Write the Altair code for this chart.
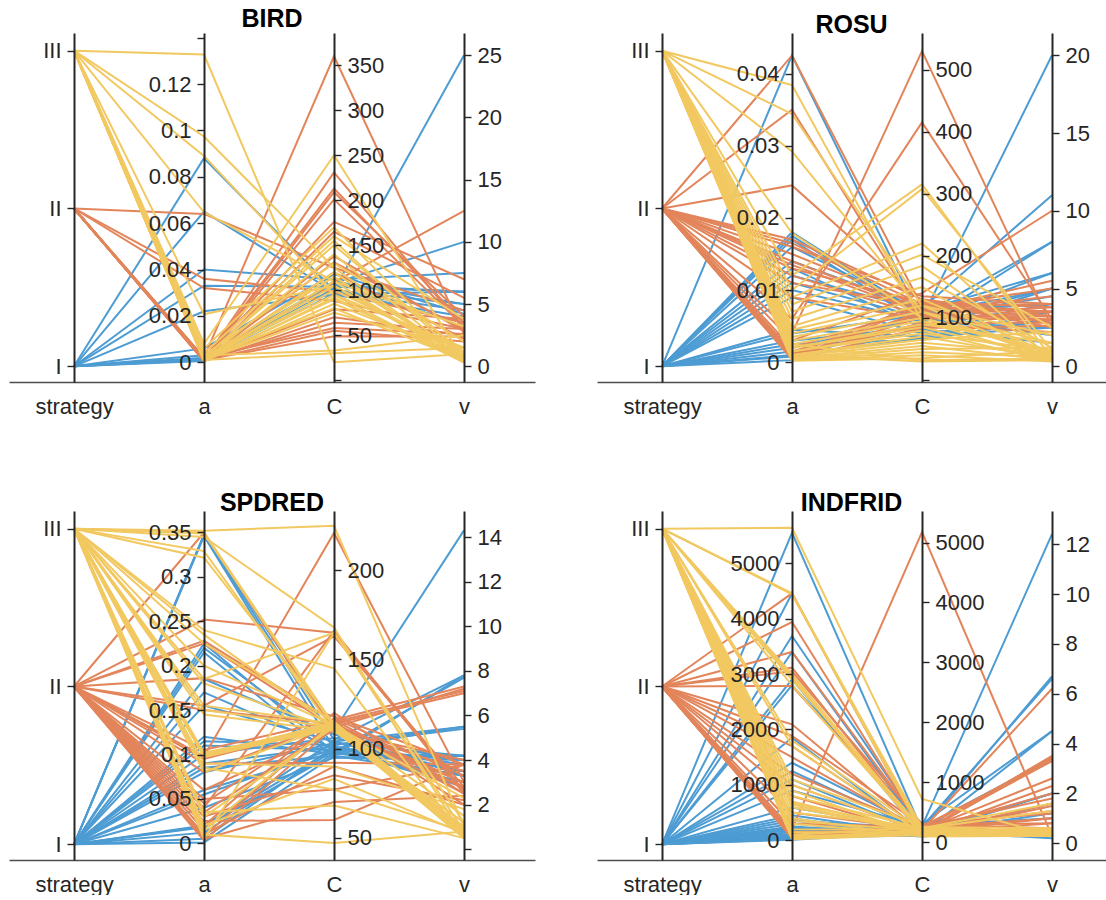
import altair as alt
import pandas as pd

# ---------------------------------------------------------------- data
LEVELS = ["I", "II", "III"]
COLORS = ["#4D9CD3", "#E3855B", "#F2C861"]
DIMS = ["strategy", "a", "C", "v"]

# BIRD
BIRD_STRATEGY = ["I"] * 12 + ["II"] * 20 + ["III"] * 25
BIRD_A = [0.088, 0.065, 0.040, 0.033, 0.022, 0.006, 0.003, 0.002, 0.0015, 0.001, 0.001, 0.0005,
          0.064, 0.036, 0.032, 0.002, 0.001, 0.0015, 0.001, 0.0005, 0.002, 0.001,
          0.0008, 0.0012, 0.001, 0.0015, 0.001, 0.0005, 0.001, 0.002, 0.0008, 0.001,
          0.1327, 0.0974, 0.089, 0.0647, 0.0207, 0.008, 0.006, 0.004, 0.002, 0.002,
          0.001, 0.003, 0.001, 0.002, 0.001, 0.0015, 0.001, 0.002, 0.001, 0.0005,
          0.002, 0.001, 0.003, 0.001, 0.0005]
BIRD_C = [100, 98, 112, 104, 95, 118, 108, 100, 96, 106, 110, 102,
          125, 98, 88, 360, 231, 213, 209, 201, 176, 165,
          138, 131, 120, 109, 79, 70, 64, 58, 55, 49,
          20, 125, 95, 110, 105, 250, 170, 160, 155, 150,
          140, 130, 120, 115, 110, 105, 100, 95, 90, 85,
          80, 75, 33, 30, 92]
BIRD_V = [5, 4.5, 7.5, 6, 4, 4.2, 10, 25, 6, 6, 5, 3.5,
          4.5, 3.5, 3.0, 2.6, 3.0, 3.5, 4.0, 3.2, 7.0, 5.5,
          2.8, 3.0, 2.2, 12.5, 3.8, 2.5, 3.0, 2.6, 2.0, 2.4,
          1.0, 0.5, 1.5, 0.4, 0.8, 0.5, 0.6, 3.8, 0.5, 1.0,
          0.4, 2.0, 0.5, 0.7, 3.2, 0.5, 1.2, 0.4, 0.6, 0.9,
          0.5, 1.5, 2.5, 1.5, 0.3]

# ROSU
ROSU_STRATEGY = ["I"] * 20 + ["II"] * 25 + ["III"] * 30
ROSU_A = [0.0425, 0.018, 0.0175, 0.017, 0.016, 0.014, 0.013, 0.012, 0.011, 0.010,
          0.009, 0.0045, 0.004, 0.003, 0.0025, 0.002, 0.0015, 0.001, 0.0008, 0.0003,
          0.0425, 0.035, 0.0245, 0.017, 0.0165, 0.016, 0.015, 0.014, 0.0135, 0.013,
          0.012, 0.011, 0.009, 0.006, 0.004, 0.003, 0.002, 0.0015, 0.001, 0.001,
          0.0008, 0.0005, 0.0012, 0.0006, 0.0004,
          0.0384, 0.0344, 0.0292, 0.0179, 0.012, 0.010, 0.009, 0.008, 0.007, 0.006,
          0.005, 0.0045, 0.004, 0.0035, 0.003, 0.0025, 0.002, 0.002, 0.0015, 0.0015,
          0.001, 0.001, 0.0008, 0.0006, 0.0005, 0.0004, 0.0003, 0.0002, 0.0025, 0.001]
ROSU_C = [95, 105, 100, 90, 110, 115, 85, 112, 100, 95,
          75, 70, 105, 85, 65, 100, 80, 68, 92, 82,
          118, 100, 126, 130, 122, 135, 118, 112, 108, 125,
          104, 120, 98, 415, 530, 140, 116, 106, 124, 92,
          110, 102, 88, 120, 84,
          95, 120, 110, 100, 315, 308, 220, 202, 184, 165,
          150, 130, 120, 110, 100, 95, 90, 85, 80, 75,
          70, 65, 60, 55, 50, 45, 40, 35, 32, 30]
ROSU_V = [6, 5, 4.5, 8, 4, 11, 3.5, 6, 20, 5,
          3, 2.5, 8, 4, 3, 2, 5, 3.5, 2.5, 1.5,
          3.5, 3, 3.8, 3.2, 2.8, 4, 3.5, 5.5, 3, 2.5,
          3.2, 4, 3.5, 3.0, 2.5, 10, 5, 3.8, 3.5, 2.8,
          4.5, 3, 2.2, 3.2, 2.6,
          1.0, 0.5, 1.5, 0.8, 0.5, 1.0, 0.4, 2.5, 0.6, 1.2,
          0.3, 0.8, 2.0, 0.5, 1.0, 0.4, 1.5, 0.6, 0.3, 1.0,
          0.5, 2.2, 0.8, 0.4, 1.2, 0.6, 0.3, 1.0, 0.5, 0.4]

# SPDRED
SPDRED_STRATEGY = ["I"] * 25 + ["II"] * 25 + ["III"] * 30
SPDRED_A = [0.348, 0.347, 0.346, 0.225, 0.22, 0.215, 0.185, 0.17, 0.155, 0.12,
            0.115, 0.11, 0.10, 0.09, 0.085, 0.08, 0.06, 0.055, 0.04, 0.02,
            0.019, 0.018, 0.012, 0.005, 0.001,
            0.35, 0.252, 0.228, 0.225, 0.186, 0.155, 0.15, 0.105, 0.098, 0.095,
            0.09, 0.08, 0.06, 0.05, 0.045, 0.04, 0.035, 0.03, 0.025, 0.02,
            0.015, 0.01, 0.008, 0.005, 0.003,
            0.352, 0.35, 0.349, 0.345, 0.329, 0.3216, 0.24, 0.235, 0.225, 0.2,
            0.185, 0.18, 0.155, 0.15, 0.145, 0.102, 0.1, 0.1, 0.099, 0.098,
            0.097, 0.09, 0.085, 0.08, 0.035, 0.03, 0.02, 0.015, 0.01, 0.005]
SPDRED_C = [110, 105, 100, 98, 102, 95, 108, 100, 104, 97,
            102, 99, 106, 101, 96, 103, 98, 100, 95, 104,
            100, 97, 99, 101, 96,
            110, 165, 115, 112, 118, 163, 114, 116, 221, 113,
            92, 115, 110, 77, 117, 166, 112, 85, 60, 120,
            114, 90, 116, 70, 112,
            225, 113, 112, 168, 110, 114, 145, 112, 115, 113,
            165, 111, 114, 112, 110, 113, 112, 114, 111, 115,
            112, 90, 77, 113, 68, 112, 83, 114, 47, 165]
SPDRED_V = [14.3, 7.8, 5.5, 7.7, 5.4, 4.2, 3.3, 4.0, 3.5, 4.2,
            5.5, 3.0, 4.0, 3.5, 7.8, 4.2, 3.3, 2.8, 4.0, 5.5,
            3.5, 4.2, 3.0, 3.8, 3.3,
            3.0, 2.5, 7.1, 7.2, 3.8, 2.8, 7.0, 7.3, 3.0, 2.5,
            3.8, 2.0, 4.0, 3.8, 3.3, 2.6, 2.8, 2.2, 3.8, 2.5,
            3.0, 2.0, 2.7, 2.4, 3.5,
            1.0, 0.8, 0.6, 0.5, 1.2, 0.7, 0.5, 1.0, 0.6, 0.9,
            0.8, 0.5, 1.5, 0.7, 1.0, 0.6, 0.8, 0.5, 1.2, 0.9,
            0.6, 1.8, 0.8, 2.3, 0.5, 1.0, 0.7, 0.6, 0.8, 1.2]

# INDFRID
INDFRID_STRATEGY = ["I"] * 30 + ["II"] * 25 + ["III"] * 30
INDFRID_A = [5550, 4458, 3688, 3400, 2906, 2800, 1852, 1400, 1250, 1100,
             900, 590, 450, 400, 350, 300, 250, 220, 200, 180,
             150, 120, 100, 80, 60, 50, 40, 30, 20, 10,
             4458, 3940, 3400, 3116, 3050, 2785, 2094, 1883, 1700, 1500,
             1200, 1000, 800, 500, 300, 200, 150, 120, 100, 90,
             80, 70, 60, 50, 40,
             5640, 4458, 4450, 4440, 3000, 2950, 2900, 2800, 1800, 1700,
             1100, 1000, 900, 800, 700, 673, 650, 600, 500, 400,
             350, 300, 200, 150, 100, 80, 60, 40, 30, 20]
INDFRID_C = [200, 150, 250, 180, 120, 300, 100, 220, 180, 150,
             260, 200, 130, 100, 240, 160, 120, 200, 90, 150,
             280, 100, 170, 130, 220, 110, 190, 140, 260, 160,
             150, 200, 250, 180, 300, 220, 160, 280, 140, 200,
             240, 170, 130, 210, 260, 5175, 190, 150, 230, 170,
             300, 140, 200, 250, 180,
             720, 200, 150, 250, 180, 120, 220, 160, 200, 140,
             260, 180, 100, 230, 150, 200, 120, 170, 250, 90,
             190, 130, 210, 160, 240, 110, 180, 150, 200, 120]
INDFRID_V = [0.3, 0.4, 6.6, 0.2, 0.5, 4.5, 0.3, 0.4, 2.0, 0.5,
             12.4, 0.3, 1.6, 0.4, 3.4, 0.5, 0.3, 6.7, 0.6, 0.4,
             1.0, 0.3, 0.5, 2.0, 0.4, 0.3, 0.5, 4.5, 0.3, 1.2,
             3.4, 0.5, 1.8, 3.3, 0.6, 1.3, 3.5, 0.8, 2.3, 6.2,
             1.0, 3.4, 1.5, 0.5, 3.3, 0.3, 2.6, 1.6, 3.4, 0.8,
             1.2, 3.5, 2.0, 0.4, 1.0,
             0.3, 0.5, 0.4, 0.6, 0.3, 0.5, 1.3, 0.4, 0.3, 0.6,
             0.4, 0.5, 0.3, 1.6, 0.4, 0.5, 0.3, 0.6, 0.4, 0.3,
             0.5, 0.4, 0.3, 0.6, 0.4, 0.5, 0.3, 0.4, 0.5, 0.3]

# axis limits (bottom, top) of each coordinate
BIRD_LIMITS = {"strategy": (0.9005, 3.112), "a": (-0.0085, 0.1420),
               "C": (-1.9, 385.9), "v": (-1.26, 26.79)}
ROSU_LIMITS = {"strategy": (0.9005, 3.112), "a": (-0.00273, 0.04561),
               "C": (-3.1, 559.0), "v": (-1.01, 21.43)}
SPDRED_LIMITS = {"strategy": (0.9005, 3.112), "a": (-0.0188, 0.3742),
                 "C": (37.49, 233.3), "v": (-0.48, 15.17)}
INDFRID_LIMITS = {"strategy": (0.9005, 3.112), "a": (-355.6, 5944.0),
                  "C": (-300.5, 5526.0), "v": (-0.67, 13.33)}

BIRD_TICKS = {"strategy": [1, 2, 3], "a": [0, 0.02, 0.04, 0.06, 0.08, 0.1, 0.12, 0.14],
              "C": [0, 50, 100, 150, 200, 250, 300, 350], "v": [0, 5, 10, 15, 20, 25]}
ROSU_TICKS = {"strategy": [1, 2, 3], "a": [0, 0.01, 0.02, 0.03, 0.04],
              "C": [0, 100, 200, 300, 400, 500], "v": [0, 5, 10, 15, 20]}
SPDRED_TICKS = {"strategy": [1, 2, 3], "a": [0, 0.05, 0.1, 0.15, 0.2, 0.25, 0.3, 0.35],
                "C": [50, 100, 150, 200], "v": [0, 2, 4, 6, 8, 10, 12, 14]}
INDFRID_TICKS = {"strategy": [1, 2, 3], "a": [0, 1000, 2000, 3000, 4000, 5000],
                 "C": [0, 1000, 2000, 3000, 4000, 5000], "v": [0, 2, 4, 6, 8, 10, 12]}

# tick marks whose labels fall outside the axis span are left unlabeled
BIRD_UNLABELED = {"a": [0.14], "C": [0]}
ROSU_UNLABELED = {"C": [0]}
SPDRED_UNLABELED = {"v": [0]}
INDFRID_UNLABELED = {}

# ---------------------------------------------------------------- style
FONT = "Liberation Sans"
INK = "#262626"
STEP = 130          # distance between neighbouring coordinate axes
FIRST = 65          # position of the first axis inside the plot
PLOT_H = 349
LABEL_SIZE = 22


def panel(title, strategy, a, c, v, limits, ticks, unlabeled, width):
    df = pd.DataFrame({"id": range(len(a)), "strategy": strategy, "a": a, "C": c, "v": v})
    base = alt.Chart(df).transform_calculate(
        level="indexof(['I', 'II', 'III'], datum.strategy) + 1"
    )
    source = {"strategy": "level", "a": "a", "C": "C", "v": "v"}

    # every coordinate rescaled onto the shared 0..1 vertical span
    norm = {}
    for d in DIMS:
        lo, hi = limits[d]
        norm["n_" + d] = f"(datum['{source[d]}'] - ({lo})) / ({hi - lo})"

    outer = width - 3 * STEP
    x_scale = alt.Scale(type="point", padding=outer / (2 * STEP), align=FIRST / outer)
    x_enc = alt.X(
        "dim:N",
        sort=["n_" + d for d in DIMS],
        scale=x_scale,
        axis=alt.Axis(
            title=None, labelExpr="replace(datum.value, 'n_', '')", labelAngle=0,
            ticks=False, labelFontSize=LABEL_SIZE, labelFont=FONT, labelColor=INK,
            labelPadding=14, domainColor="#4d4d4d", domainWidth=1.3,
        ),
    )

    layers = []
    for lvl in LEVELS:
        layers.append(
            base.transform_filter(f"datum.strategy == '{lvl}'")
            .transform_calculate(**norm)
            .transform_fold(list(norm), as_=["dim", "t"])
            .mark_line(strokeWidth=2)
            .encode(
                x=x_enc,
                y=alt.Y("t:Q", scale=alt.Scale(domain=[0, 1], nice=False, zero=False), axis=None),
                detail="id:N",
                color=alt.Color("strategy:N", scale=alt.Scale(domain=LEVELS, range=COLORS),
                                legend=None),
            )
        )

    for i, d in enumerate(DIMS):
        pos = FIRST + i * STEP
        left = d in ("strategy", "a")
        if d == "strategy":
            label_expr = "['', 'I', 'II', 'III'][datum.value]"
        else:
            hidden = unlabeled.get(d, [])
            label_expr = f"indexof({hidden}, datum.value) >= 0 ? '' : format(datum.value, '~g')"
        lo, hi = limits[d]
        layers.append(
            base.transform_calculate(dim=f"'n_{d}'").mark_point(opacity=0, size=1).encode(
                x=alt.X("dim:N", sort=["n_" + k for k in DIMS], scale=x_scale),
                y=alt.Y(
                    f"{source[d]}:Q",
                    scale=alt.Scale(domain=[lo, hi], nice=False, zero=False),
                    axis=alt.Axis(
                        orient="left" if left else "right",
                        offset=-pos if left else pos - width,
                        values=ticks[d], labelExpr=label_expr, title=None, grid=False,
                        tickSize=7, tickWidth=1.4, tickColor=INK,
                        domainColor=INK, domainWidth=2,
                        labelFontSize=LABEL_SIZE, labelFont=FONT, labelColor=INK,
                        labelPadding=6, labelOverlap=False, zindex=1,
                    ),
                ),
            )
        )

    return (
        alt.layer(*layers)
        .resolve_scale(y="independent")
        .properties(
            width=width, height=PLOT_H,
            title=alt.TitleParams(title, fontSize=25, fontWeight="bold", font=FONT,
                                  color="#000000", anchor="middle", offset=-5),
        )
    )


bird = panel("BIRD", BIRD_STRATEGY, BIRD_A, BIRD_C, BIRD_V,
             BIRD_LIMITS, BIRD_TICKS, BIRD_UNLABELED, 526)
rosu = panel("ROSU", ROSU_STRATEGY, ROSU_A, ROSU_C, ROSU_V,
             ROSU_LIMITS, ROSU_TICKS, ROSU_UNLABELED, 509)
spdred = panel("SPDRED", SPDRED_STRATEGY, SPDRED_A, SPDRED_C, SPDRED_V,
               SPDRED_LIMITS, SPDRED_TICKS, SPDRED_UNLABELED, 526)
indfrid = panel("INDFRID", INDFRID_STRATEGY, INDFRID_A, INDFRID_C, INDFRID_V,
                INDFRID_LIMITS, INDFRID_TICKS, INDFRID_UNLABELED, 509)

chart = (
    alt.vconcat(
        alt.hconcat(bird, rosu, spacing=62),
        alt.hconcat(spdred, indfrid, spacing=62),
        spacing=74,
    )
    .properties(padding={"left": 9, "top": 6, "right": 0, "bottom": 0}, background="white")
    .configure_view(stroke=None)
)

chart.save("out.html", embed_options={"renderer": "svg", "actions": False})
